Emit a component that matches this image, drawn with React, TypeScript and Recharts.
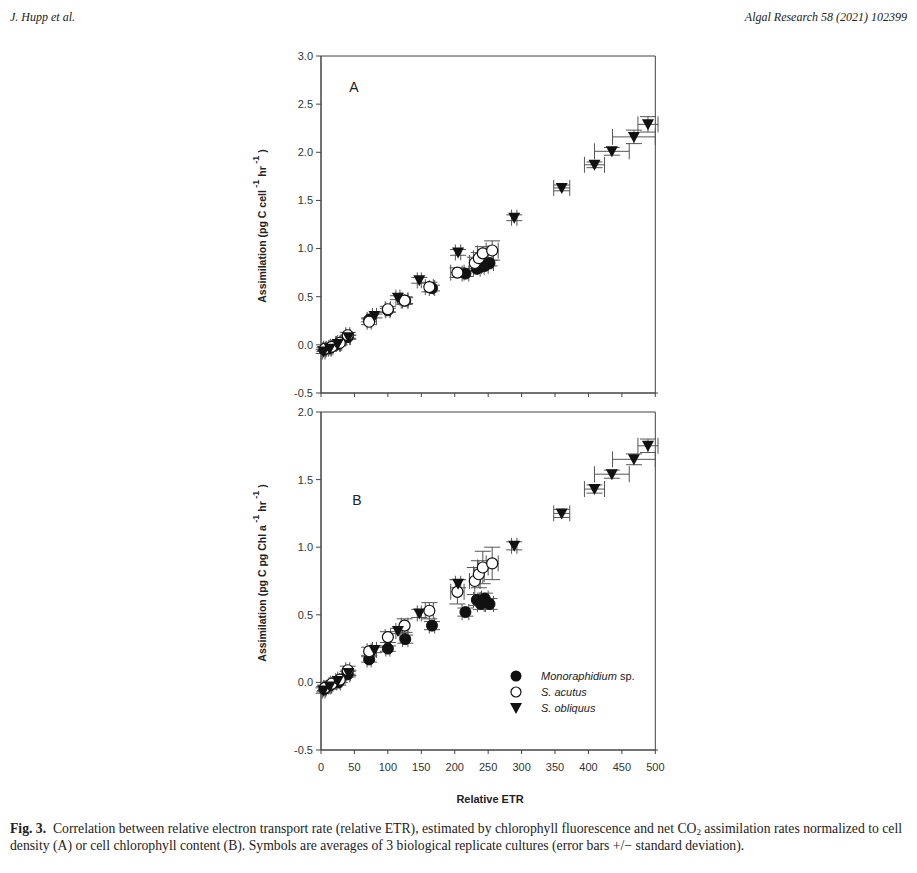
import { ScatterChart, Scatter, XAxis, YAxis, ErrorBar, ReferenceArea, Legend } from 'recharts'

const etrTicks = [0, 50, 100, 150, 200, 250, 300, 350, 400, 450, 500]
const cellTicks = [-0.5, 0, 0.5, 1, 1.5, 2, 2.5, 3]
const chlTicks = [-0.5, 0, 0.5, 1, 1.5, 2]

// Monoraphidium sp.
const monoEtr = [5, 14, 26, 40, 72, 100, 126, 166, 216, 233, 239, 245, 252]
const monoEtrSd = [2, 2, 3, 3, 3, 3, 4, 4, 5, 5, 5, 5, 6]
const monoCell = [-0.05, -0.03, 0.01, 0.08, 0.26, 0.36, 0.46, 0.59, 0.74, 0.79, 0.81, 0.82, 0.85]
const monoCellSd = [0.02, 0.02, 0.02, 0.02, 0.02, 0.02, 0.03, 0.03, 0.03, 0.03, 0.03, 0.03, 0.03]
const monoChl = [-0.05, -0.02, 0.0, 0.06, 0.17, 0.25, 0.32, 0.42, 0.52, 0.61, 0.58, 0.62, 0.58]
const monoChlSd = [0.02, 0.02, 0.02, 0.02, 0.02, 0.02, 0.03, 0.03, 0.03, 0.04, 0.04, 0.04, 0.04]

// S. acutus
const acutEtr = [6, 16, 28, 40, 72, 100, 125, 162, 204, 230, 236, 242, 256]
const acutEtrSd = [2, 2, 3, 3, 3, 4, 5, 6, 10, 8, 8, 8, 9]
const acutCell = [-0.04, -0.02, 0.02, 0.1, 0.24, 0.37, 0.46, 0.6, 0.75, 0.85, 0.9, 0.95, 0.98]
const acutCellSd = [0.02, 0.02, 0.02, 0.03, 0.03, 0.03, 0.04, 0.05, 0.05, 0.06, 0.06, 0.07, 0.1]
const acutChl = [-0.04, -0.01, 0.02, 0.09, 0.23, 0.335, 0.42, 0.53, 0.67, 0.75, 0.8, 0.85, 0.88]
const acutChlSd = [0.02, 0.02, 0.02, 0.03, 0.03, 0.04, 0.05, 0.06, 0.09, 0.1, 0.1, 0.12, 0.12]

// S. obliquus
const obliEtr = [4, 13, 25, 41, 80, 115, 147, 205, 289, 360, 409, 435, 468, 489]
const obliEtrSd = [2, 2, 3, 3, 3, 3, 3, 4, 4, 12, 15, 26, 32, 15]
const obliCell = [-0.07, -0.04, 0.01, 0.08, 0.3, 0.49, 0.67, 0.96, 1.32, 1.63, 1.87, 2.01, 2.16, 2.29]
const obliCellSd = [0.02, 0.02, 0.02, 0.02, 0.02, 0.02, 0.03, 0.03, 0.03, 0.03, 0.03, 0.04, 0.07, 0.08]
const obliChl = [-0.06, -0.03, 0.01, 0.07, 0.24, 0.38, 0.51, 0.73, 1.01, 1.25, 1.43, 1.54, 1.65, 1.75]
const obliChlSd = [0.02, 0.02, 0.02, 0.02, 0.02, 0.02, 0.03, 0.03, 0.03, 0.03, 0.03, 0.03, 0.04, 0.05]

const speciesNames = ['Monoraphidium', 'S. acutus', 'S. obliquus']

const rows = (xs: number[], xsd: number[], ys: number[], ysd: number[]) =>
  xs.map((x, i) => ({ x, y: ys[i], ex: xsd[i], ey: ysd[i] }))

const tickStyle = { fontSize: 11, fill: '#333', fontFamily: '"Liberation Sans", Arial, sans-serif' }
const axisColor = '#444'
const barColor = '#555'

const FilledCircle = (p: any) => <circle cx={p.cx} cy={p.cy} r={5.5} fill="#111" stroke="#111" />
const OpenCircle = (p: any) => <circle cx={p.cx} cy={p.cy} r={5.5} fill="#fff" stroke="#111" strokeWidth={1.2} />
const DownTriangle = (p: any) => (
  <path d={`M${p.cx - 6},${p.cy - 5} L${p.cx + 6},${p.cy - 5} L${p.cx},${p.cy + 6} Z`} fill="#111" />
)

function Bars() {
  return (
    <>
      <ErrorBar dataKey="ex" direction="x" width={8} stroke={barColor} strokeWidth={1} />
      <ErrorBar dataKey="ey" direction="y" width={8} stroke={barColor} strokeWidth={1} />
    </>
  )
}

function LegendBox() {
  const shapes = [
    <circle cx={7} cy={7} r={5.5} fill="#111" />,
    <circle cx={7} cy={7} r={5} fill="#fff" stroke="#111" strokeWidth={1.2} />,
    <path d="M1,2 L13,2 L7,13 Z" fill="#111" />
  ]
  return (
    <div style={{ fontFamily: '"Liberation Sans", Arial, sans-serif', fontSize: 11, color: '#222' }}>
      {speciesNames.map((name, i) => (
        <div key={name} style={{ display: 'flex', alignItems: 'center', height: 16 }}>
          <svg width={14} height={14} style={{ marginRight: 18 }}>{shapes[i]}</svg>
          <span style={{ fontStyle: 'italic' }}>{name}</span>
          {i === 0 && <span>&nbsp;sp.</span>}
        </div>
      ))}
    </div>
  )
}

function YTitle({ x, y, unit }: { x: number; y: number; unit: string }) {
  return (
    <text
      transform={`translate(${x},${y}) rotate(-90)`}
      textAnchor="middle"
      fontFamily='"Liberation Sans", Arial, sans-serif'
      fontWeight="bold"
      fontSize={10.5}
      fill="#222"
    >
      Assimilation (pg C {unit}
      <tspan dy={-7} fontSize={9}> -1</tspan>
      <tspan dy={7}>  hr</tspan>
      <tspan dy={-7} fontSize={9}> -1</tspan>
      <tspan dy={7}>  )</tspan>
    </text>
  )
}

export default function App() {
  const serif = '"Liberation Serif", serif'
  return (
    <div style={{ position: 'absolute', left: 0, top: 0, width: 917, height: 873, background: '#fff', overflow: 'hidden' }}>
      <div style={{ position: 'absolute', left: 10, top: 10, fontFamily: serif, fontStyle: 'italic', fontSize: 12, color: '#222' }}>
        J. Hupp et al.
      </div>
      <div style={{ position: 'absolute', right: 10, top: 10, fontFamily: serif, fontStyle: 'italic', fontSize: 12, color: '#222' }}>
        Algal Research 58 (2021) 102399
      </div>

      <div style={{ position: 'absolute', left: 0, top: 0 }}>
        <ScatterChart width={917} height={400} margin={{ top: 56, right: 259, bottom: 0, left: 0 }}>
          <XAxis type="number" dataKey="x" domain={[0, 500]} ticks={etrTicks} height={7} tickSize={4}
            tickFormatter={() => ''} stroke={axisColor} />
          <YAxis type="number" dataKey="y" domain={[-0.5, 3]} ticks={cellTicks} width={321} tickSize={5} tickMargin={3}
            tick={tickStyle} stroke={axisColor} tickFormatter={(v: number) => v.toFixed(1)} />
          <ReferenceArea x1={0} x2={500} y1={-0.5} y2={3} fill="none" stroke={axisColor} strokeWidth={1} />
          <Scatter data={rows(monoEtr, monoEtrSd, monoCell, monoCellSd)} shape={FilledCircle} isAnimationActive={false}>
            {Bars()}
          </Scatter>
          <Scatter data={rows(acutEtr, acutEtrSd, acutCell, acutCellSd)} shape={OpenCircle} isAnimationActive={false}>
            {Bars()}
          </Scatter>
          <Scatter data={rows(obliEtr, obliEtrSd, obliCell, obliCellSd)} shape={DownTriangle} isAnimationActive={false}>
            {Bars()}
          </Scatter>
        </ScatterChart>
      </div>

      <div style={{ position: 'absolute', left: 0, top: 400 }}>
        <ScatterChart width={917} height={473} margin={{ top: 12, right: 259, bottom: 93, left: 0 }}>
          <XAxis type="number" dataKey="x" domain={[0, 500]} ticks={etrTicks} height={30} tickSize={4} tickMargin={9}
            tick={tickStyle} stroke={axisColor} />
          <YAxis type="number" dataKey="y" domain={[-0.5, 2]} ticks={chlTicks} width={321} tickSize={5} tickMargin={3}
            tick={tickStyle} stroke={axisColor} tickFormatter={(v: number) => v.toFixed(1)} />
          <ReferenceArea x1={0} x2={500} y1={-0.5} y2={2} fill="none" stroke={axisColor} strokeWidth={1} />
          <Scatter data={rows(monoEtr, monoEtrSd, monoChl, monoChlSd)} shape={FilledCircle} isAnimationActive={false}>
            {Bars()}
          </Scatter>
          <Scatter data={rows(acutEtr, acutEtrSd, acutChl, acutChlSd)} shape={OpenCircle} isAnimationActive={false}>
            {Bars()}
          </Scatter>
          <Scatter data={rows(obliEtr, obliEtrSd, obliChl, obliChlSd)} shape={DownTriangle} isAnimationActive={false}>
            {Bars()}
          </Scatter>
          <Legend layout="vertical" align="center" verticalAlign="middle" content={<LegendBox />}
            wrapperStyle={{ left: 509, top: 268, width: 150, bottom: 'auto' }} />
        </ScatterChart>
      </div>

      <svg width={917} height={873} style={{ position: 'absolute', left: 0, top: 0, pointerEvents: 'none' }}>
        <YTitle x={266} y={226} unit="cell" />
        <YTitle x={266} y={573} unit="pg Chl a" />
        <text x={354} y={92} fontFamily='"Liberation Sans", Arial, sans-serif' fontSize={14} fill="#222" textAnchor="middle">A</text>
        <text x={357} y={505} fontFamily='"Liberation Sans", Arial, sans-serif' fontSize={14} fill="#222" textAnchor="middle">B</text>
        <text x={490} y={803} fontFamily='"Liberation Sans", Arial, sans-serif' fontWeight="bold" fontSize={11} fill="#222" textAnchor="middle">Relative ETR</text>
      </svg>

      <div style={{ position: 'absolute', left: 10, top: 820, width: 905, whiteSpace: 'nowrap', fontFamily: serif, fontSize: 13.7, lineHeight: '17px', color: '#222' }}>
        <b>Fig. 3.</b>&nbsp; Correlation between relative electron transport rate (relative ETR), estimated by chlorophyll fluorescence and net CO<sub style={{ fontSize: 9, verticalAlign: '-2px', lineHeight: 0 }}>2</sub> assimilation rates normalized to cell
        <br />
        density (A) or cell chlorophyll content (B). Symbols are averages of 3 biological replicate cultures (error bars +/− standard deviation).
      </div>
    </div>
  )
}
